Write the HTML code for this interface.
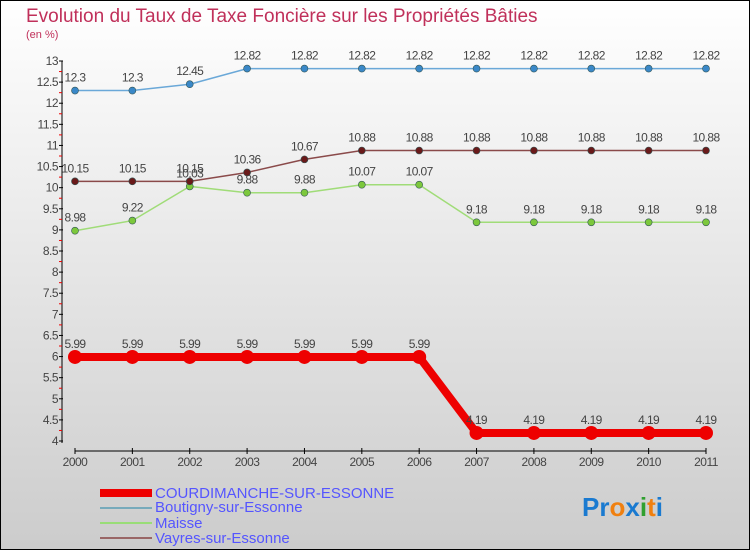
<!DOCTYPE html>
<html><head><meta charset="utf-8"><style>
body{margin:0}
#c{width:750px;height:550px;position:relative;box-sizing:border-box;border:1px solid #000;background:linear-gradient(#fff,#ccc);font-family:"Liberation Sans",sans-serif;overflow:hidden}
</style></head><body>
<div id="c">
<svg id="s" width="748" height="548" viewBox="1 1 748 548" xmlns="http://www.w3.org/2000/svg" style="position:absolute;left:0;top:0">
<text x="26" y="22" font-size="19" fill="#c0305a">Evolution du Taux de Taxe Foncière sur les Propriétés Bâties</text>
<text x="26" y="38" font-size="11" fill="#c0305a">(en %)</text>
<g id="axes"></g><g id="series"></g>
<g>
<rect x="100" y="489" width="52" height="8" fill="#e00"/>
<text x="155" y="498" font-size="15" fill="#55f">COURDIMANCHE-SUR-ESSONNE</text>
<rect x="100" y="507" width="52" height="2" fill="#7ab"/>
<text x="155" y="512" font-size="15" fill="#55f">Boutigny-sur-Essonne</text>
<rect x="100" y="522" width="52" height="2" fill="#9d7"/>
<text x="155" y="528" font-size="15" fill="#55f">Maisse</text>
<rect x="100" y="537" width="52" height="2" fill="#966"/>
<text x="155" y="543" font-size="15" fill="#55f">Vayres-sur-Essonne</text>
</g>
<text x="582" y="516" font-size="26" font-weight="bold"><tspan fill="#1a7ad0">Pr</tspan><tspan fill="#f08010">o</tspan><tspan fill="#1a7ad0">x</tspan><tspan fill="#30a030">i</tspan><tspan fill="#f08010">t</tspan><tspan fill="#1a7ad0">i</tspan></text>
</svg>
</div>
<script>
const years=["2000","2001","2002","2003","2004","2005","2006","2007","2008","2009","2010","2011"];
const yTicks=[4,4.5,5,5.5,6,6.5,7,7.5,8,8.5,9,9.5,10,10.5,11,11.5,12,12.5,13];
const courdimanche=[5.99,5.99,5.99,5.99,5.99,5.99,5.99,4.19,4.19,4.19,4.19,4.19];
const boutigny=[12.3,12.3,12.45,12.82,12.82,12.82,12.82,12.82,12.82,12.82,12.82,12.82];
const maisse=[8.98,9.22,10.03,9.88,9.88,10.07,10.07,9.18,9.18,9.18,9.18,9.18];
const vayres=[10.15,10.15,10.15,10.36,10.67,10.88,10.88,10.88,10.88,10.88,10.88,10.88];
const NS="http://www.w3.org/2000/svg";
const X=i=>75+i*(706-75)/11;
const Y=v=>441-(v-4)*(441-61)/9;
function mk(t,a,p){const e=document.createElementNS(NS,t);for(const k in a)e.setAttribute(k,a[k]);p.appendChild(e);return e;}
const ax=document.getElementById('axes');
const yl=mk('line',{x1:62,y1:61,x2:62,y2:443,stroke:'#000','stroke-width':1},ax);


const xl=mk('line',{x1:75,y1:451,x2:706,y2:451,stroke:'#000','stroke-width':1},ax);


yTicks.forEach(v=>{
 const y=Y(v);
 mk('line',{x1:59,y1:y,x2:63,y2:y,stroke:'#000'},ax);
 mk('line',{x1:59,y1:Y(v+0.25),x2:62,y2:Y(v+0.25),stroke:v<13?'#e00':'none'},ax);
 const t=mk('text',{x:58,y:y+4,'font-size':12,'text-anchor':'end',fill:'#444','letter-spacing':'-0.5'},ax);
 t.textContent=String(v);
 
 
});
years.forEach((yr,i)=>{
 mk('line',{x1:X(i),y1:448,x2:X(i),y2:454,stroke:'#000'},ax);
 const t=mk('text',{x:X(i),y:466,'font-size':12,'text-anchor':'middle',fill:'#444','letter-spacing':'-0.5'},ax);
 t.textContent=yr;
 
 
});
const sg=document.getElementById('series');
function draw(name,vals,color,w,r,fill){
 const g=mk('g',{},sg);
 
 
 const pl=mk('polyline',{points:vals.map((v,i)=>X(i)+','+Y(v)).join(' '),fill:'none',stroke:color,'stroke-width':w,'stroke-linejoin':'round'},g);
 
 
 vals.forEach((v,i)=>{
  const c=mk('circle',{cx:X(i),cy:Y(v),r:r,fill:fill,stroke:'#355',"stroke-width":r>5?0:0.6},g);
  
  
  const t=mk('text',{x:X(i),y:Y(v)-9,'font-size':12,'text-anchor':'middle',fill:'#444','letter-spacing':'-0.6'},g);
  t.textContent=String(v);
  
  
 });
}
draw('boutigny',boutigny,'#6aa8d8',1.5,3.5,'#3a88c8');
draw('maisse',maisse,'#a0dc78',1.5,3.5,'#7cc83c');
draw('vayres',vayres,'#8a4a4a',1.5,3.5,'#6a1a1a');
draw('courdimanche',courdimanche,'#e00',8,7,'#e00');
</script>
</body></html>
